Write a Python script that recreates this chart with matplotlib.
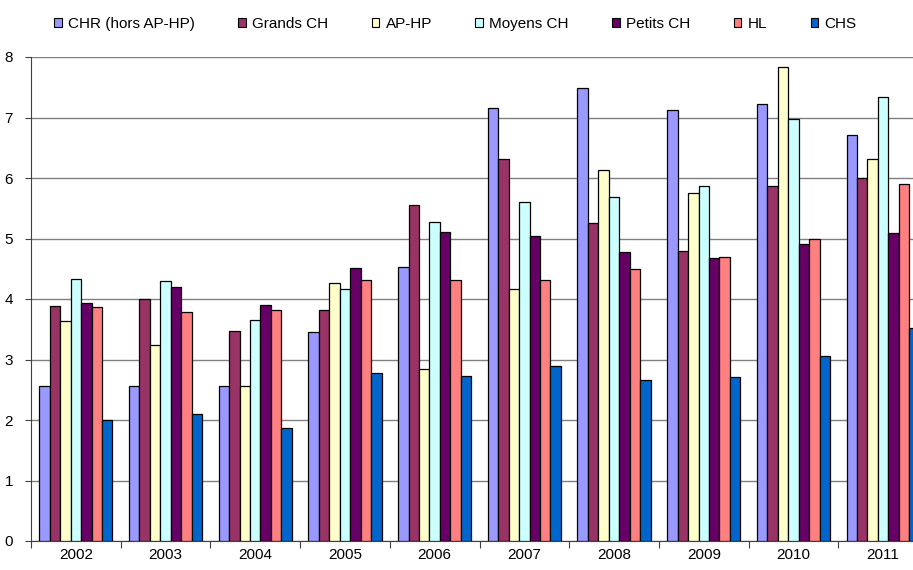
import matplotlib
matplotlib.use("Agg")
import matplotlib.pyplot as plt
from matplotlib.patches import Patch
import numpy as np

years = ["2002", "2003", "2004", "2005", "2006", "2007", "2008", "2009", "2010", "2011"]
series_names = ["CHR (hors AP-HP)", "Grands CH", "AP-HP", "Moyens CH", "Petits CH", "HL", "CHS"]
chr_vals    = [2.56, 2.57, 2.57, 3.45, 4.53, 7.16, 7.48, 7.12, 7.23, 6.71]
grands_vals = [3.89, 4.00, 3.47, 3.82, 5.55, 6.32, 5.25, 4.80, 5.86, 6.00]
aphp_vals   = [3.64, 3.24, 2.57, 4.26, 2.85, 4.17, 6.13, 5.76, 7.83, 6.31]
moyens_vals = [4.33, 4.29, 3.65, 4.17, 5.27, 5.60, 5.69, 5.87, 6.97, 7.34]
petits_vals = [3.93, 4.20, 3.90, 4.51, 5.11, 5.04, 4.78, 4.68, 4.91, 5.09]
hl_vals     = [3.87, 3.78, 3.81, 4.32, 4.32, 4.32, 4.50, 4.69, 4.99, 5.90]
chs_vals    = [2.00, 2.10, 1.87, 2.78, 2.72, 2.89, 2.66, 2.71, 3.06, 3.52]
colors = ["#9999FF", "#993366", "#FFFFCC", "#CCFFFF", "#660066", "#FF8080", "#0066CC"]

all_series = [chr_vals, grands_vals, aphp_vals, moyens_vals, petits_vals, hl_vals, chs_vals]

plt.rcParams['font.family'] = ['Liberation Sans', 'DejaVu Sans']
fig = plt.figure(figsize=(9.13, 5.70), dpi=100)
ax = fig.add_axes([31/913, 29/570, (928-31)/913, (541-57)/570])

x = np.arange(len(years))
bw = 0.1165
n = len(all_series)
for i, (vals, c) in enumerate(zip(all_series, colors)):
    offs = (i - (n - 1) / 2) * bw
    ax.bar(x + offs, vals, width=bw, color=c, edgecolor="black", linewidth=0.9, zorder=3)

ax.set_xlim(-0.5, len(years) - 0.5)
ax.set_ylim(0, 8)
ax.set_yticks(range(0, 9))
ax.set_yticklabels([str(v) for v in range(0, 9)], fontsize=11)
ax.yaxis.grid(True, color="#808080", linewidth=1, zorder=0)
ax.set_axisbelow(True)

ax.set_xticks(np.arange(-0.5, len(years), 1.0))
ax.set_xticklabels([])
ax.set_xticks(x, minor=True)
ax.set_xticklabels(years, minor=True, fontsize=11)
ax.tick_params(axis='x', which='major', length=5, color="#404040", direction='out')
ax.tick_params(axis='x', which='minor', length=0, pad=5)
ax.tick_params(axis='y', length=4, color="#404040", pad=9)

for s in ["top", "right"]:
    ax.spines[s].set_visible(False)
ax.spines["left"].set_color("#404040")
ax.spines["bottom"].set_color("#404040")

handles = [Patch(facecolor=c, edgecolor="black", linewidth=0.8) for c in colors]
fig.legend(handles, series_names, loc="upper left", bbox_to_anchor=(42/913, 1 - 5/570),
           ncol=7, frameon=False, fontsize=11, handlelength=0.5, handleheight=0.5,
           handletextpad=0.4, columnspacing=2.85, borderpad=0.3)

fig.savefig("out.png", dpi=100)
